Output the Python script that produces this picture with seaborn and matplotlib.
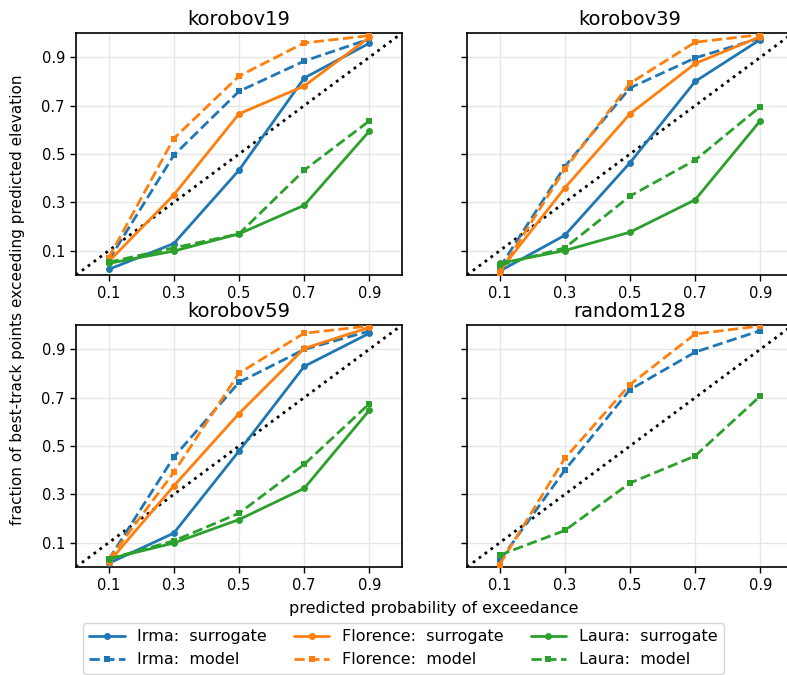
import matplotlib
matplotlib.use("Agg")
import matplotlib.pyplot as plt
import seaborn as sns
import pandas as pd
import numpy as np

probs = [0.1, 0.3, 0.5, 0.7, 0.9]
panels = ["korobov19", "korobov39", "korobov59", "random128"]
storms = ["Irma", "Florence", "Laura"]
kinds = ["surrogate", "model"]

# korobov19
k19_irma_sur = [0.023, 0.13, 0.433, 0.814, 0.958]
k19_irma_mod = [0.06, 0.495, 0.759, 0.884, 0.975]
k19_flor_sur = [0.055, 0.331, 0.666, 0.781, 0.982]
k19_flor_mod = [0.07, 0.564, 0.822, 0.959, 0.989]
k19_laur_sur = [0.048, 0.099, 0.170, 0.288, 0.595]
k19_laur_mod = [0.053, 0.112, 0.170, 0.433, 0.637]
# korobov39
k39_irma_sur = [0.016, 0.164, 0.464, 0.800, 0.973]
k39_irma_mod = [0.03, 0.448, 0.773, 0.897, 0.979]
k39_flor_sur = [0.016, 0.360, 0.666, 0.874, 0.985]
k39_flor_mod = [0.010, 0.437, 0.792, 0.962, 0.993]
k39_laur_sur = [0.048, 0.101, 0.177, 0.311, 0.638]
k39_laur_mod = [0.040, 0.112, 0.326, 0.475, 0.696]
# korobov59
k59_irma_sur = [0.015, 0.140, 0.479, 0.829, 0.966]
k59_irma_mod = [0.030, 0.454, 0.763, 0.899, 0.975]
k59_flor_sur = [0.019, 0.335, 0.634, 0.903, 0.990]
k59_flor_mod = [0.030, 0.391, 0.801, 0.966, 0.996]
k59_laur_sur = [0.033, 0.099, 0.196, 0.325, 0.648]
k59_laur_mod = [0.033, 0.108, 0.222, 0.424, 0.675]
# random128 (model only)
r128_irma_mod = [0.025, 0.400, 0.733, 0.888, 0.977]
r128_flor_mod = [0.010, 0.449, 0.754, 0.963, 0.996]
r128_laur_mod = [0.049, 0.151, 0.347, 0.459, 0.707]

series = {
    ("korobov19", "Irma", "surrogate"): k19_irma_sur,
    ("korobov19", "Irma", "model"): k19_irma_mod,
    ("korobov19", "Florence", "surrogate"): k19_flor_sur,
    ("korobov19", "Florence", "model"): k19_flor_mod,
    ("korobov19", "Laura", "surrogate"): k19_laur_sur,
    ("korobov19", "Laura", "model"): k19_laur_mod,
    ("korobov39", "Irma", "surrogate"): k39_irma_sur,
    ("korobov39", "Irma", "model"): k39_irma_mod,
    ("korobov39", "Florence", "surrogate"): k39_flor_sur,
    ("korobov39", "Florence", "model"): k39_flor_mod,
    ("korobov39", "Laura", "surrogate"): k39_laur_sur,
    ("korobov39", "Laura", "model"): k39_laur_mod,
    ("korobov59", "Irma", "surrogate"): k59_irma_sur,
    ("korobov59", "Irma", "model"): k59_irma_mod,
    ("korobov59", "Florence", "surrogate"): k59_flor_sur,
    ("korobov59", "Florence", "model"): k59_flor_mod,
    ("korobov59", "Laura", "surrogate"): k59_laur_sur,
    ("korobov59", "Laura", "model"): k59_laur_mod,
    ("random128", "Irma", "model"): r128_irma_mod,
    ("random128", "Florence", "model"): r128_flor_mod,
    ("random128", "Laura", "model"): r128_laur_mod,
}

rows = []
for (panel, storm, kind), vals in series.items():
    for p, v in zip(probs, vals):
        rows.append(dict(panel=panel, storm=storm, kind=kind, p=p, frac=v))
df = pd.DataFrame(rows)

sns.set_theme(style="ticks")
plt.rcParams["font.family"] = ["DejaVu Sans"]
plt.rcParams["text.color"] = "black"
plt.rcParams["axes.labelcolor"] = "black"
plt.rcParams["xtick.color"] = "black"
plt.rcParams["ytick.color"] = "black"
plt.rcParams["legend.edgecolor"] = "#cccccc"

colors = {"Irma": "#1f77b4", "Florence": "#ff7f0e", "Laura": "#2ca02c"}
lstyles = {"surrogate": "-", "model": "--"}
mk = {"surrogate": "o", "model": "s"}

fig = plt.figure(figsize=(7.87, 6.75), dpi=100)
W, H = 787, 675
pos = {
    "korobov19": (76, 33),
    "korobov39": (467, 33),
    "korobov59": (76, 325),
    "random128": (467, 325),
}
aw, ah = 326, 242
axes = {}
for name, (x0, y0) in pos.items():
    ax = fig.add_axes([x0 / W, 1 - (y0 + ah) / H, aw / W, ah / H])
    axes[name] = ax

for name, ax in axes.items():
    ax.plot([0, 1], [0, 1], color="black", linestyle=":", linewidth=2, zorder=1)
    sub = df[df.panel == name]
    for storm in storms:
        for kind in kinds:
            d = sub[(sub.storm == storm) & (sub.kind == kind)]
            if d.empty:
                continue
            sns.lineplot(data=d, x="p", y="frac", ax=ax, color=colors[storm],
                         linestyle=lstyles[kind], marker=mk[kind], markersize=5,
                         markeredgewidth=0, linewidth=2,
                         label=f"{storm}:  {kind}", legend=False, zorder=3)
    ax.set_xlim(0, 1)
    ax.set_ylim(0, 1)
    ax.set_xticks(probs)
    ax.set_yticks(probs)
    ax.set_xticklabels([f"{v:.1f}" for v in probs])
    ax.grid(True, color="#e6e6e6", linewidth=1)
    ax.set_axisbelow(True)
    ax.set_xlabel("")
    ax.set_ylabel("")
    ax.set_title(name, fontsize=14, pad=6, color="black")
    ax.tick_params(axis="both", labelsize=10.5, length=4.5, width=1, color="black",
                   labelcolor="black", direction="out")
    for s in ax.spines.values():
        s.set_color("black")
        s.set_linewidth(1.2)
    if name in ("korobov39", "random128"):
        ax.set_yticklabels([])
    else:
        ax.set_yticklabels([f"{v:.1f}" for v in probs])

fig.text(18 / W, 1 - 300 / H, "fraction of best-track points exceeding predicted elevation",
         rotation=90, ha="center", va="center", fontsize=11, color="black")
fig.text(434 / W, 1 - 609 / H, "predicted probability of exceedance",
         ha="center", va="center", fontsize=11.5, color="black")

handles, labels = axes["korobov19"].get_legend_handles_labels()
order = ["Irma:  surrogate", "Irma:  model", "Florence:  surrogate", "Florence:  model",
         "Laura:  surrogate", "Laura:  model"]
hmap = dict(zip(labels, handles))
fig.legend([hmap[l] for l in order], order, ncol=3, loc="upper left",
           bbox_to_anchor=(83 / W, 1 - 623 / H), fontsize=11.5, frameon=True,
           handlelength=2.2, columnspacing=1.7, borderaxespad=0)

fig.savefig("out.png", dpi=100)
